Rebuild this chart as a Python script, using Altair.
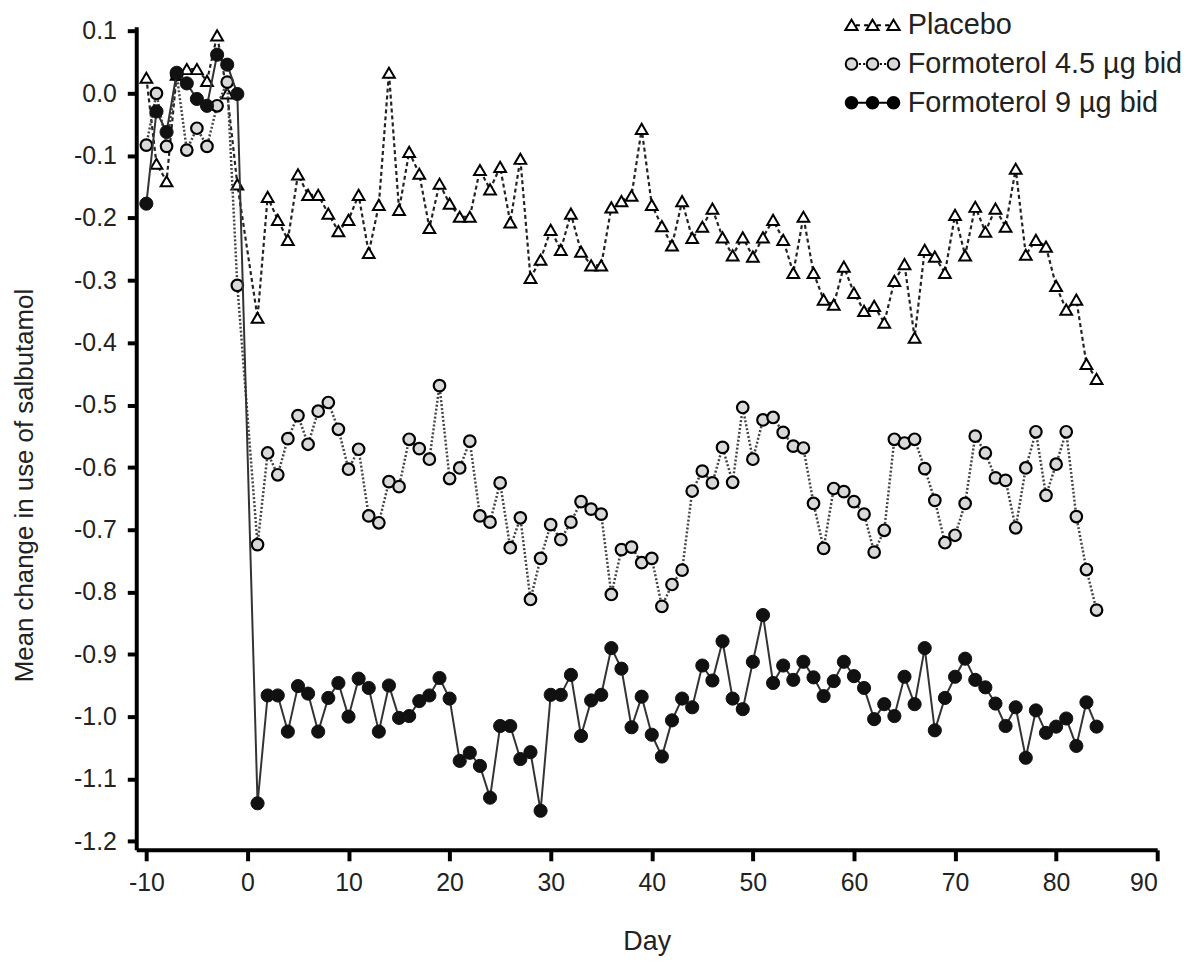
import altair as alt
import pandas as pd

# ---------------- data ----------------
days_pre = [-10, -9, -8, -7, -6, -5, -4, -3, -2, -1]
days_post = list(range(1, 85))
days = days_pre + days_post

series_names = ["Placebo", "Formoterol 4.5 µg bid", "Formoterol 9 µg bid"]

placebo = [
    0.025, -0.113, -0.141, 0.030, 0.039, 0.039, 0.020, 0.093, 0.000, -0.146,
    -0.360, -0.166, -0.203, -0.235, -0.130, -0.163, -0.163, -0.193, -0.221, -0.203,
    -0.163, -0.256, -0.179, 0.033, -0.187, -0.094, -0.129, -0.216, -0.145, -0.177,
    -0.198, -0.198, -0.123, -0.154, -0.118, -0.207, -0.105, -0.296, -0.267, -0.219,
    -0.251, -0.193, -0.254, -0.276, -0.276, -0.183, -0.173, -0.164, -0.057, -0.179,
    -0.213, -0.244, -0.173, -0.232, -0.214, -0.185, -0.231, -0.260, -0.231, -0.262,
    -0.231, -0.203, -0.235, -0.288, -0.198, -0.288, -0.331, -0.339, -0.278, -0.320,
    -0.349, -0.341, -0.368, -0.301, -0.274, -0.392, -0.251, -0.262, -0.288, -0.195,
    -0.260, -0.182, -0.222, -0.185, -0.214, -0.121, -0.259, -0.235, -0.246, -0.309,
    -0.347, -0.331, -0.434, -0.458,
]

form45 = [
    -0.083, 0.000, -0.085, 0.030, -0.091, -0.056, -0.085, -0.020, 0.018, -0.308,
    -0.724, -0.577, -0.612, -0.554, -0.517, -0.563, -0.510, -0.496, -0.539, -0.603,
    -0.571, -0.678, -0.689, -0.623, -0.631, -0.555, -0.570, -0.587, -0.469, -0.618,
    -0.601, -0.558, -0.678, -0.688, -0.625, -0.729, -0.681, -0.812, -0.746, -0.692,
    -0.716, -0.688, -0.655, -0.667, -0.675, -0.804, -0.732, -0.728, -0.753, -0.746,
    -0.823, -0.788, -0.765, -0.638, -0.606, -0.625, -0.568, -0.624, -0.504, -0.587,
    -0.524, -0.520, -0.544, -0.566, -0.569, -0.658, -0.730, -0.634, -0.639, -0.655,
    -0.675, -0.736, -0.701, -0.555, -0.561, -0.555, -0.602, -0.653, -0.721, -0.709,
    -0.658, -0.550, -0.577, -0.617, -0.621, -0.697, -0.601, -0.543, -0.645, -0.595,
    -0.543, -0.679, -0.764, -0.829,
]

form9 = [
    -0.177, -0.029, -0.062, 0.033, 0.016, -0.009, -0.020, 0.062, 0.046, -0.001,
    -1.139, -0.966, -0.966, -1.024, -0.951, -0.963, -1.024, -0.970, -0.946, -1.000,
    -0.939, -0.954, -1.024, -0.950, -1.002, -0.999, -0.975, -0.966, -0.938, -0.971,
    -1.071, -1.058, -1.079, -1.130, -1.015, -1.015, -1.068, -1.057, -1.151, -0.965,
    -0.965, -0.933, -1.031, -0.974, -0.965, -0.890, -0.923, -1.017, -0.968, -1.029,
    -1.064, -1.006, -0.971, -0.985, -0.918, -0.942, -0.879, -0.971, -0.988, -0.912,
    -0.837, -0.946, -0.918, -0.941, -0.912, -0.937, -0.967, -0.943, -0.912, -0.935,
    -0.954, -1.004, -0.980, -0.999, -0.936, -0.980, -0.890, -1.022, -0.970, -0.936,
    -0.907, -0.941, -0.953, -0.979, -1.015, -0.985, -1.066, -0.990, -1.026, -1.016,
    -1.003, -1.047, -0.977, -1.016,
]

x_ticks = [-10, 0, 10, 20, 30, 40, 50, 60, 70, 80, 90]
y_ticks = [0.1, 0.0, -0.1, -0.2, -0.3, -0.4, -0.5, -0.6, -0.7, -0.8, -0.9, -1.0, -1.1, -1.2]

rows = []
for name, vals in zip(series_names, [placebo, form45, form9]):
    for d, v in zip(days, vals):
        rows.append({"day": d, "value": v, "series": name})
df = pd.DataFrame(rows)

# ---------------- legend symbols (line + three markers) ----------------
def tri(cx):
    return f"M{cx:.2f},-0.85L{cx + 0.95:.2f},0.75L{cx - 0.95:.2f},0.75Z"

def circ(cx):
    r = 0.9
    return f"M{cx - r:.2f},0A{r},{r} 0 1,1 {cx + r:.2f},0A{r},{r} 0 1,1 {cx - r:.2f},0Z"

centers = [0.0, 3.25, 6.5]
p_path = "".join(tri(c) for c in centers) + "".join(
    f"M{c + 0.7:.2f},0L{c + 1.3:.2f},0M{c + 1.95:.2f},0L{c + 2.55:.2f},0" for c in centers[:2]
)
f45_path = "".join(circ(c) for c in centers) + "".join(
    f"M{c + 1.15:.2f},0L{c + 1.45:.2f},0M{c + 1.8:.2f},0L{c + 2.1:.2f},0" for c in centers[:2]
)
f9_path = "".join(circ(c) for c in centers) + "".join(
    f"M{c + 0.9:.2f},0L{c + 2.35:.2f},0" for c in centers[:2]
)

FONT = "Liberation Sans"

x_enc = alt.X(
    "day:Q",
    scale=alt.Scale(domain=[-11, 90], nice=False, zero=False),
    axis=alt.Axis(
        values=x_ticks, title="Day", grid=False,
        labelExpr="replace(format(datum.value, 'd'), '\u2212', '-')",
        domainColor="black", domainWidth=4, tickColor="black", tickWidth=4, tickSize=11,
        labelFont=FONT, labelFontSize=25, labelColor="#222", labelPadding=10,
        titleFont=FONT, titleFontSize=27, titleFontWeight="normal", titleColor="#222",
        titlePadding=33,
    ),
)
y_enc = alt.Y(
    "value:Q",
    scale=alt.Scale(domain=[-1.2137, 0.1069], nice=False, zero=False),
    axis=alt.Axis(
        values=y_ticks, title="Mean change in use of salbutamol", grid=False,
        labelExpr="replace(format(datum.value, '.1f'), '\u2212', '-')",
        domainColor="black", domainWidth=4, tickColor="black", tickWidth=4, tickSize=9,
        labelFont=FONT, labelFontSize=25, labelColor="#222", labelPadding=11,
        titleFont=FONT, titleFontSize=26, titleFontWeight="normal", titleColor="#222",
        titlePadding=36, titleY=461,
    ),
)

base = alt.Chart(df)

def sel(name):
    return base.transform_filter(alt.datum.series == name)

line_p = sel(series_names[0]).mark_line(stroke="#222", strokeWidth=2.2, strokeDash=[4, 3]).encode(x=x_enc, y=y_enc)
pts_p = sel(series_names[0]).mark_point(
    shape="triangle-up", size=140, filled=True, fill="white", stroke="black", strokeWidth=2, opacity=1
).encode(x=x_enc, y=y_enc)

line_45 = sel(series_names[1]).mark_line(stroke="#444", strokeWidth=2.5, strokeDash=[2, 2]).encode(x=x_enc, y=y_enc)
pts_45 = sel(series_names[1]).mark_point(
    shape="circle", size=135, filled=True, fill="#d9d9d9", stroke="black", strokeWidth=2.2, opacity=1
).encode(x=x_enc, y=y_enc)

line_9 = sel(series_names[2]).mark_line(stroke="#333", strokeWidth=2).encode(x=x_enc, y=y_enc)
pts_9 = sel(series_names[2]).mark_point(
    shape="circle", size=175, filled=True, fill="#111", stroke="#111", strokeWidth=1, opacity=1
).encode(x=x_enc, y=y_enc)

leg = dict(
    orient="none", legendX=705, legendY=-16, title=None, padding=0,
    labelFont=FONT, labelFontSize=29, labelColor="#222", labelLimit=600, labelOffset=42,
    symbolSize=169, symbolStrokeWidth=2, symbolStrokeColor="black", rowPadding=9,
)

legend_layer = base.transform_filter("datum.day > 1000").mark_point(
    filled=True, size=169, stroke="black", strokeWidth=2, opacity=1
).encode(
    x=x_enc, y=y_enc,
    shape=alt.Shape("series:N", scale=alt.Scale(domain=series_names, range=[p_path, f45_path, f9_path]),
                    legend=alt.Legend(**leg)),
    fill=alt.Fill("series:N", scale=alt.Scale(domain=series_names, range=["white", "#d9d9d9", "black"]),
                  legend=alt.Legend(**leg)),
    stroke=alt.Stroke("series:N", scale=alt.Scale(domain=series_names, range=["black", "black", "black"]),
                      legend=alt.Legend(**leg)),
)

chart = alt.layer(line_p, pts_p, line_45, pts_45, line_9, pts_9, legend_layer).properties(
    width=1027, height=828,
    autosize=alt.AutoSizeParams(type="none"),
    padding={"left": 129, "top": 16, "right": 35, "bottom": 110},
    background="white",
).configure_view(strokeWidth=0)

chart.save("out.html", embed_options={"renderer": "svg", "actions": False})
